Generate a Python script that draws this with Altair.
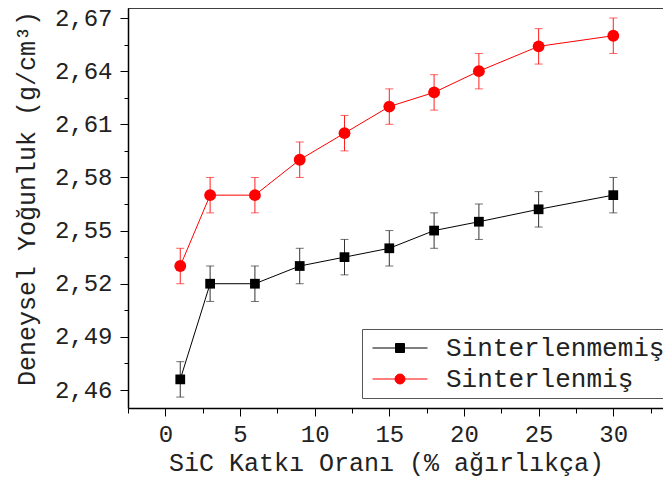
import altair as alt
import pandas as pd

FONT = "Liberation Mono"

sic = [1, 3, 6, 9, 12, 15, 18, 21, 25, 30]
unsintered = [2.466, 2.52, 2.52, 2.53, 2.535, 2.54, 2.55, 2.555, 2.562, 2.57]
sintered = [2.53, 2.57, 2.57, 2.59, 2.605, 2.62, 2.628, 2.64, 2.654, 2.66]
err_unsintered = [0.01, 0.01, 0.01, 0.01, 0.01, 0.01, 0.01, 0.01, 0.01, 0.01]
err_sintered = [0.01, 0.01, 0.01, 0.01, 0.01, 0.01, 0.01, 0.01, 0.01, 0.01]
series_names = ["Sinterlenmemiş", "Sinterlenmiş"]
series_colors = ["#000000", "#FF0000"]
bar_colors = ["#333333", "#FF2020"]

y_tick_values = [2.46, 2.475, 2.49, 2.505, 2.52, 2.535, 2.55, 2.565, 2.58,
                 2.595, 2.61, 2.625, 2.64, 2.655, 2.67]
x_tick_values = [-2.5, 0, 2.5, 5, 7.5, 10, 12.5, 15, 17.5, 20, 22.5, 25,
                 27.5, 30, 32.5]

rows = []
for name, vals, errs in [(series_names[0], unsintered, err_unsintered),
                         (series_names[1], sintered, err_sintered)]:
    for x, v, e in zip(sic, vals, errs):
        rows.append({"sic": x, "rho": v, "lo": v - e, "hi": v + e, "seri": name})
df = pd.DataFrame(rows)

xscale = alt.Scale(domain=[-2.5, 33.33], nice=False, zero=False)
yscale = alt.Scale(domain=[2.44984, 2.67565], nice=False, zero=False)

major_y = "abs(round((datum.value-2.46)/0.015) % 2) < 0.5"
major_x = "abs(datum.value % 5) < 0.01"

x_axis = alt.Axis(
    values=x_tick_values,
    title="SiC Katkı Oranı (% ağırlıkça)",
    labelExpr=f"({major_x}) ? ('' + datum.value) : ''",
    tickSize={"condition": {"test": major_x, "value": 8}, "value": 5},
    labelPadding=6, labelOverlap=False, labelFlush=False,
    titleX=258, titleY=62, titleBaseline="alphabetic", titleAlign="center",
    grid=False,
)
y_axis = alt.Axis(
    values=y_tick_values,
    title="Deneysel Yoğunluk (g/cm³)",
    labelExpr=f"({major_y}) ? replace(format(datum.value, '.2f'), '.', ',') : ''",
    tickSize={"condition": {"test": major_y, "value": 8}, "value": 4},
    labelPadding=8, labelOverlap=False, labelFlush=False,
    titleX=-102, titleY=190, titleAngle=270, titleBaseline="middle", titleAlign="center",
    grid=False,
)

color = alt.Color("seri:N", scale=alt.Scale(domain=series_names, range=series_colors), legend=None)
barcolor = alt.Color("seri:N", scale=alt.Scale(domain=series_names, range=bar_colors), legend=None)

base = alt.Chart(df)

bars = base.mark_errorbar(ticks={"size": 8, "thickness": 1}, thickness=1).encode(
    x=alt.X("sic:Q", scale=xscale, axis=x_axis),
    y=alt.Y("lo:Q", scale=yscale, axis=y_axis),
    y2="hi:Q",
    color=barcolor,
)

lines = base.mark_line(strokeWidth=1).encode(
    x=alt.X("sic:Q", scale=xscale, axis=x_axis),
    y=alt.Y("rho:Q", scale=yscale, axis=y_axis),
    color=color,
    detail="seri:N",
)

points = base.mark_point(filled=True, opacity=1).encode(
    x=alt.X("sic:Q", scale=xscale, axis=x_axis),
    y=alt.Y("rho:Q", scale=yscale, axis=y_axis),
    color=color,
    shape=alt.Shape("seri:N", scale=alt.Scale(domain=series_names, range=["square", "circle"]), legend=None),
    size=alt.Size("seri:N", scale=alt.Scale(domain=series_names, range=[95, 140]), legend=None),
)

legend_paths = [
    "M-5.5,0H5.5M-0.9,-0.9H0.9V0.9H-0.9Z",
    "M-5.5,0H5.5M1,0A1,1 0 1,1 -1,0A1,1 0 1,1 1,0Z",
]

leg = alt.Legend(
    title=None, orient="none", legendX=234, legendY=321,
    strokeColor="#555555", fillColor="white", padding=6,
    symbolOffset=19, labelOffset=33, rowPadding=5,
    symbolStrokeWidth=1, symbolSize=100, symbolOpacity=1,
    labelFont=FONT, labelFontSize=26, labelColor="#222222",
    labelLimit=400,
)

legend_layer = base.mark_point(filled=True, opacity=0, size=100, strokeWidth=1).encode(
    x=alt.X("sic:Q", scale=xscale, axis=x_axis),
    y=alt.Y("rho:Q", scale=yscale, axis=y_axis),
    fill=alt.Fill("seri:N", scale=alt.Scale(domain=series_names, range=series_colors), legend=leg),
    stroke=alt.Stroke("seri:N", scale=alt.Scale(domain=series_names, range=series_colors), legend=leg),
    shape=alt.Shape("seri:N", scale=alt.Scale(domain=series_names, range=legend_paths), legend=leg),
)

top_frame = alt.Chart(pd.DataFrame({"k": [0]})).mark_rule(color="#000000", strokeWidth=1.5).encode(
    y=alt.value(0), x=alt.value(0), x2=alt.value(560)
)

chart = alt.layer(bars, lines, points, legend_layer, top_frame).resolve_scale(
    color="independent", shape="independent", size="independent",
    fill="independent", stroke="independent"
).resolve_legend(
    shape="independent", fill="independent", stroke="independent"
).properties(
    width=535, height=400,
    autosize=alt.AutoSizeParams(type="none"),
    padding={"left": 120, "top": 0, "right": 0, "bottom": 68},
).configure_view(
    stroke=None
).configure_axis(
    labelFont=FONT, labelFontSize=24, labelColor="#222222", labelFontWeight="normal",
    titleFont=FONT, titleFontSize=25, titleColor="#222222", titleFontWeight="normal",
    domainColor="#000000", domainWidth=1.5, tickColor="#000000", tickWidth=1,
)

chart.save("out.html", embed_options={"renderer": "svg", "actions": False})
